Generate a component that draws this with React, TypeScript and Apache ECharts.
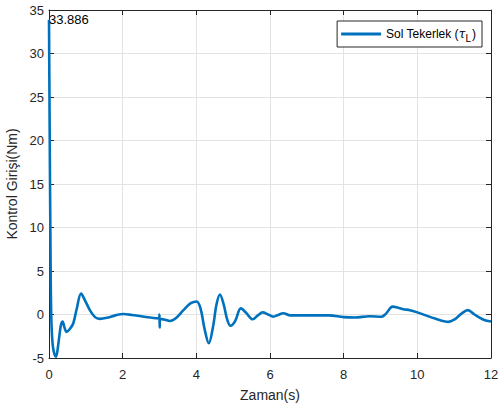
import React, { useEffect, useRef } from "react";
import * as echarts from "echarts";

const timeS: number[] = [
  0, 0.02, 0.04, 0.06, 0.1, 0.15, 0.19, 0.25, 0.32, 0.37, 0.42, 0.48, 0.56, 0.66, 0.75, 0.87, 0.98,
  1.11, 1.25, 1.38, 1.6, 1.8, 2.02, 2.25, 2.5, 2.75, 2.99, 3.0, 3.005, 3.01, 3.15, 3.28, 3.45, 3.65,
  3.85, 4.01, 4.12, 4.22, 4.34, 4.45, 4.55, 4.64, 4.74, 4.84, 4.93, 5.05, 5.21, 5.35, 5.53, 5.67,
  5.8, 5.95, 6.09, 6.22, 6.36, 6.55, 6.8, 7.2, 7.6, 8.0, 8.3, 8.7, 9.03, 9.15, 9.33, 9.5, 9.62,
  9.8, 10.1, 10.5, 10.84, 11.0, 11.2, 11.37, 11.55, 11.8, 12,
];
const leftTorque: number[] = [
  33.886, 20, 8, 0, -3.5, -4.6, -4.85, -3.5, -1.3, -0.8, -1.5, -2.0, -1.7, -1.0, 0.6, 2.4, 1.6,
  0.5, -0.3, -0.5, -0.35, -0.1, 0.05, -0.05, -0.2, -0.35, -0.45, 0.0, -1.5, -0.5, -0.6, -0.75, -0.4, 0.5,
  1.3, 1.5, 0.6, -1.6, -3.3, -1.5, 1.2, 2.3, 1.2, -0.6, -1.3, -0.8, 0.7, 0.2, -0.55, -0.1,
  0.25, 0.0, -0.25, -0.05, 0.15, -0.1, -0.1, -0.1, -0.1, -0.3, -0.35, -0.2, -0.25, 0.1, 0.9, 0.75, 0.6,
  0.5, 0.1, -0.5, -0.85, -0.6, 0.1, 0.5, 0.0, -0.6, -0.8,
];
const peakLabel = "33.886";
const seriesName = "Sol Tekerlek";
const xTitle = "Zaman(s)";
const yTitle = "Kontrol Girişi(Nm)";

const FONT = "'Liberation Sans', Arial, Helvetica, sans-serif";
const AXIS = "#262626";
const GRID = "#e3e3e3";
const BLUE = "#0072BD";

export default function App() {
  const ref = useRef<HTMLDivElement>(null);
  useEffect(() => {
    if (!ref.current) return;
    const chart = echarts.init(ref.current, null, { renderer: "svg" });
    const data = timeS.map((t, i) => [t, leftTorque[i]]);
    const axisCommon = {
      axisLine: { show: true, onZero: false, lineStyle: { color: AXIS, width: 1 } },
      axisTick: { show: true, inside: true, length: 5, lineStyle: { color: AXIS } },
    };
    chart.setOption({
      animation: false,
      backgroundColor: "#ffffff",
      textStyle: { fontFamily: FONT },
      grid: { left: 49, right: 10, top: 10, bottom: 50, containLabel: false, outerBoundsMode: "none" },
      legend: {
        show: true,
        data: [{ name: seriesName, icon: "rect" }],
        top: 21,
        right: 19,
        orient: "vertical",
        backgroundColor: "#ffffff",
        borderColor: AXIS,
        borderWidth: 1,
        borderRadius: 0,
        padding: [4, 6, 4, 4],
        itemWidth: 40,
        itemHeight: 3,
        itemGap: 4,
        itemStyle: { color: BLUE, borderWidth: 0 },
        lineStyle: { color: BLUE, width: 2.6 },
        formatter: () => "{a|Sol Tekerlek (}{t|τ}{s|L}{a|)}",
        textStyle: {
          color: "#000",
          fontFamily: FONT,
          fontSize: 12,
          rich: {
            a: { fontSize: 12, fontFamily: FONT, color: "#000", lineHeight: 18 },
            t: { fontSize: 12, fontStyle: "italic", fontFamily: "'DejaVu Serif', serif", color: "#000", lineHeight: 18 },
            s: { fontSize: 10, fontFamily: FONT, color: "#000", lineHeight: 18, padding: [8, 1, 0, 0] },
          },
        },
      },
      xAxis: [
        {
          type: "value",
          min: 0,
          max: 12,
          interval: 2,
          name: xTitle,
          nameLocation: "middle",
          nameGap: 30,
          nameTextStyle: { fontSize: 14, color: AXIS, fontFamily: FONT },
          ...axisCommon,
          axisLabel: { fontSize: 13, color: AXIS, margin: 10, fontFamily: FONT },
          splitLine: { show: true, lineStyle: { color: GRID, width: 1 } },
        },
        {
          type: "value",
          position: "top",
          min: 0,
          max: 12,
          interval: 2,
          ...axisCommon,
          axisLabel: { show: false },
          splitLine: { show: false },
        },
      ],
      yAxis: [
        {
          type: "value",
          min: -5,
          max: 35,
          interval: 5,
          name: yTitle,
          nameLocation: "middle",
          nameGap: 28,
          nameTextStyle: { fontSize: 14, color: AXIS, fontFamily: FONT },
          ...axisCommon,
          axisLabel: { fontSize: 13, color: AXIS, margin: 5, fontFamily: FONT },
          splitLine: { show: true, lineStyle: { color: GRID, width: 1 } },
        },
        {
          type: "value",
          position: "right",
          min: -5,
          max: 35,
          interval: 5,
          ...axisCommon,
          axisLabel: { show: false },
          splitLine: { show: false },
        },
      ],
      series: [
        {
          name: seriesName,
          type: "line",
          data,
          smooth: 0.35,
          showSymbol: false,
          symbol: "none",
          lineStyle: { color: BLUE, width: 2.6 },
          itemStyle: { color: BLUE },
          markPoint: {
            symbol: "circle",
            symbolSize: 0,
            data: [{ coord: [0, leftTorque[0]], value: leftTorque[0] }],
            label: {
              show: true,
              position: "right",
              distance: 0,
              formatter: peakLabel,
              color: "#000",
              fontSize: 13,
              fontFamily: FONT,
            },
          },
        },
      ],
    });
    return () => chart.dispose();
  }, []);
  return <div ref={ref} style={{ width: 501, height: 408, position: "absolute", left: 0, top: 0 }} />;
}
